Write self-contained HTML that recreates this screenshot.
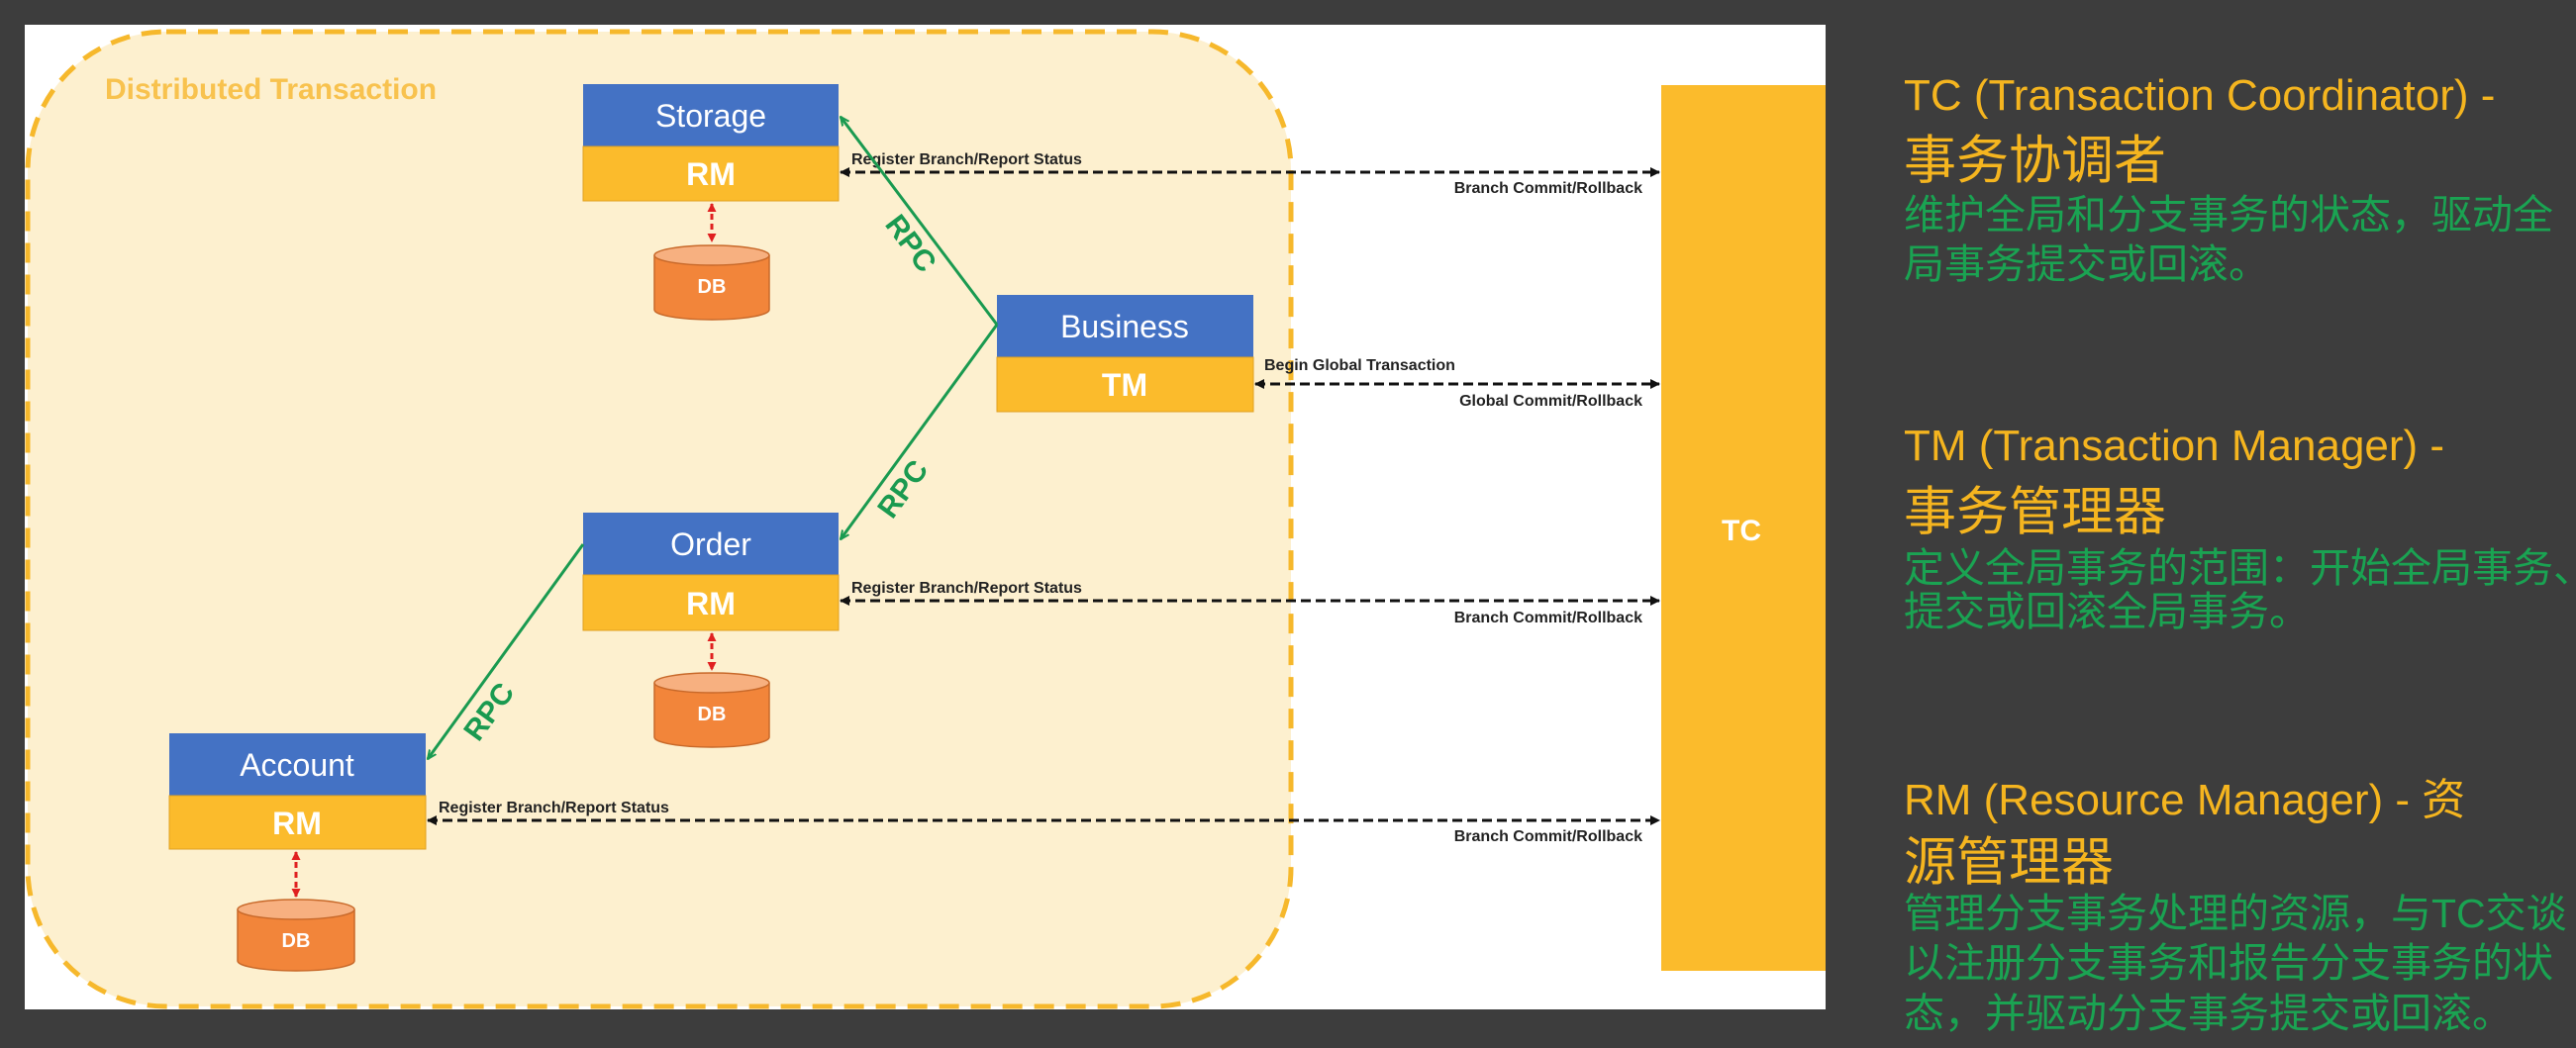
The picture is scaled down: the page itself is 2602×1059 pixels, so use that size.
<!DOCTYPE html>
<html><head><meta charset="utf-8"><style>
html,body{margin:0;padding:0;background:#3d3d3d;width:2602px;height:1059px;overflow:hidden}
svg{display:block}
</style></head><body>
<svg width="2602" height="1059" viewBox="0 0 2602 1059" xmlns="http://www.w3.org/2000/svg">
<defs>
<marker id="ab" markerWidth="10" markerHeight="10" refX="9" refY="5" orient="auto-start-reverse" markerUnits="userSpaceOnUse"><path d="M0,0 L10,5 L0,10 z" fill="#111"/></marker>
<marker id="ar" markerWidth="9" markerHeight="9" refX="8" refY="4.5" orient="auto-start-reverse" markerUnits="userSpaceOnUse"><path d="M0,0 L9,4.5 L0,9 z" fill="#e02020"/></marker>
<marker id="ag" markerWidth="10" markerHeight="10" refX="9" refY="5" orient="auto" markerUnits="userSpaceOnUse"><path d="M0,1 L9,5 L0,9" fill="none" stroke="#1a9a50" stroke-width="2"/></marker>
</defs>
<rect x="0" y="0" width="2602" height="1059" fill="#3d3d3d"/>
<rect x="25" y="25" width="1819" height="995" fill="#ffffff"/>
<rect x="28" y="32" width="1276" height="985" rx="140" ry="140" fill="#fdf0cf" stroke="#f6b82c" stroke-width="5" stroke-dasharray="20,12"/>
<text x="106" y="100" font-family="Liberation Sans, sans-serif" font-weight="bold" font-size="30" fill="#f8c24e">Distributed Transaction</text>

<g font-family="Liberation Sans, sans-serif" text-anchor="middle" fill="#fff">
<rect x="589" y="85" width="258" height="63" fill="#4472c4"/><rect x="589" y="148" width="258" height="55" fill="#fbbb2c" stroke="#e0a020" stroke-width="1"/>
<text x="718" y="128" font-size="32">Storage</text><text x="718" y="187" font-size="32" font-weight="bold">RM</text>
<rect x="1007" y="298" width="259" height="63" fill="#4472c4"/><rect x="1007" y="361" width="259" height="55" fill="#fbbb2c" stroke="#e0a020" stroke-width="1"/>
<text x="1136" y="341" font-size="32">Business</text><text x="1136" y="400" font-size="32" font-weight="bold">TM</text>
<rect x="589" y="518" width="258" height="63" fill="#4472c4"/><rect x="589" y="581" width="258" height="56" fill="#fbbb2c" stroke="#e0a020" stroke-width="1"/>
<text x="718" y="561" font-size="32">Order</text><text x="718" y="621" font-size="32" font-weight="bold">RM</text>
<rect x="171" y="741" width="259" height="63" fill="#4472c4"/><rect x="171" y="804" width="259" height="54" fill="#fbbb2c" stroke="#e0a020" stroke-width="1"/>
<text x="300" y="784" font-size="32">Account</text><text x="300" y="843" font-size="32" font-weight="bold">RM</text>
</g>

<g fill="#f2853a" stroke="#c8692a" stroke-width="1.5">
<path d="M661,258 V313 A58,10 0 0 0 777,313 V258"/><ellipse cx="719" cy="258" rx="58" ry="10" fill="#f7b080"/>
<path d="M661,690 V745 A58,10 0 0 0 777,745 V690"/><ellipse cx="719" cy="690" rx="58" ry="10" fill="#f7b080"/>
<path d="M240,919 V971 A59,10 0 0 0 358,971 V919"/><ellipse cx="299" cy="919" rx="59" ry="10" fill="#f7b080"/>
</g>
<g font-family="Liberation Sans, sans-serif" font-size="20" font-weight="bold" fill="#fff" text-anchor="middle">
<text x="719" y="296">DB</text><text x="719" y="728">DB</text><text x="299" y="957">DB</text>
</g>
<g stroke="#e02020" stroke-width="3" stroke-dasharray="6,4">
<line x1="719" y1="206" x2="719" y2="244" marker-start="url(#ar)" marker-end="url(#ar)"/>
<line x1="719" y1="640" x2="719" y2="677" marker-start="url(#ar)" marker-end="url(#ar)"/>
<line x1="299" y1="861" x2="299" y2="906" marker-start="url(#ar)" marker-end="url(#ar)"/>
</g>

<rect x="1678" y="86" width="166" height="895" fill="#fbbb2c"/>
<text x="1759" y="546" font-family="Liberation Sans, sans-serif" font-size="30" font-weight="bold" fill="#fff" text-anchor="middle">TC</text>

<g stroke="#111" stroke-width="3" stroke-dasharray="10,5">
<line x1="849" y1="174" x2="1676" y2="174" marker-start="url(#ab)" marker-end="url(#ab)"/>
<line x1="1268" y1="388" x2="1676" y2="388" marker-start="url(#ab)" marker-end="url(#ab)"/>
<line x1="849" y1="607" x2="1676" y2="607" marker-start="url(#ab)" marker-end="url(#ab)"/>
<line x1="432" y1="829" x2="1676" y2="829" marker-start="url(#ab)" marker-end="url(#ab)"/>
</g>
<g font-family="Liberation Sans, sans-serif" font-size="16" font-weight="bold" fill="#222">
<text x="860" y="166">Register Branch/Report Status</text>
<text x="1659" y="195" text-anchor="end">Branch Commit/Rollback</text>
<text x="1277" y="374">Begin Global Transaction</text>
<text x="1659" y="410" text-anchor="end">Global Commit/Rollback</text>
<text x="860" y="599">Register Branch/Report Status</text>
<text x="1659" y="629" text-anchor="end">Branch Commit/Rollback</text>
<text x="443" y="821">Register Branch/Report Status</text>
<text x="1659" y="850" text-anchor="end">Branch Commit/Rollback</text>
</g>

<g stroke="#1a9a50" stroke-width="3" fill="none">
<line x1="1007" y1="328" x2="849" y2="118" marker-end="url(#ag)"/>
<line x1="1007" y1="328" x2="849" y2="545" marker-end="url(#ag)"/>
<line x1="589" y1="550" x2="432" y2="767" marker-end="url(#ag)"/>
</g>
<g font-family="Liberation Sans, sans-serif" font-size="30" font-weight="bold" fill="#1a9a50" text-anchor="middle">
<text transform="translate(912,252) rotate(53)">RPC</text>
<text transform="translate(920,500) rotate(-54)">RPC</text>
<text transform="translate(502,725) rotate(-54)">RPC</text>
</g>

<g font-family="Liberation Sans, 'Noto Sans CJK SC', sans-serif">
<text x="1923" y="111" font-size="44" fill="#f5b51f">TC (Transaction Coordinator) -</text>
<text x="1923" y="180" font-size="53" fill="#f5b51f">事务协调者</text>
<text x="1923" y="231" font-size="41" fill="#1aa352">维护全局和分支事务的状态，驱动全</text>
<text x="1923" y="281" font-size="41" fill="#1aa352">局事务提交或回滚。</text>
<text x="1923" y="465" font-size="44" fill="#f5b51f">TM (Transaction Manager) -</text>
<text x="1923" y="535" font-size="53" fill="#f5b51f">事务管理器</text>
<text x="1923" y="588" font-size="41" fill="#1aa352">定义全局事务的范围：开始全局事务、</text>
<text x="1923" y="632" font-size="41" fill="#1aa352">提交或回滚全局事务。</text>
<text x="1923" y="823" font-size="44" fill="#f5b51f">RM (Resource Manager) - 资</text>
<text x="1923" y="889" font-size="53" fill="#f5b51f">源管理器</text>
<text x="1923" y="937" font-size="41" fill="#1aa352">管理分支事务处理的资源，与TC交谈</text>
<text x="1923" y="987" font-size="41" fill="#1aa352">以注册分支事务和报告分支事务的状</text>
<text x="1923" y="1038" font-size="41" fill="#1aa352">态，并驱动分支事务提交或回滚。</text>
</g>
</svg>
</body></html>
